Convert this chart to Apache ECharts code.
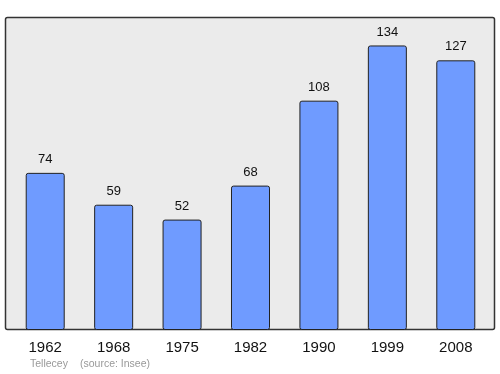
<!DOCTYPE html>
<html>
<head>
<meta charset="utf-8">
<script src="https://cdn.jsdelivr.net/npm/echarts@6/dist/echarts.min.js"></script>
<style>html,body{margin:0;padding:0;background:#fff}#c{width:500px;height:374px}</style>
</head>
<body>
<div id="c"></div>
<script>
var categories = ['1962','1968','1975','1982','1990','1999','2008'];
var values = [74,59,52,68,108,134,127];
var chart = echarts.init(document.getElementById('c'));
chart.setOption({
  animation:false,
  graphic:[
    {type:'rect',z:-10,shape:{x:5.5,y:17.5,width:489,height:312,r:2},style:{fill:'#ebebeb',stroke:'#333',lineWidth:1.5}},
    {type:'text',left:30,top:359,style:{text:'Tellecey',fill:'#999',font:'10.5px "Liberation Sans", Arial, sans-serif'}},
    {type:'text',left:80,top:359,style:{text:'(source: Insee)',fill:'#999',font:'10.5px "Liberation Sans", Arial, sans-serif'}}
  ],
  grid:{left:11,right:10,top:17,bottom:44},
  xAxis:{type:'category',data:categories,axisLine:{show:false},axisTick:{show:false},
    axisLabel:{color:'#111',fontSize:15,margin:10,fontFamily:'Liberation Sans'}},
  yAxis:{type:'value',min:0,max:147.4,show:false,splitLine:{show:false}},
  series:[{type:'bar',data:values,barWidth:'57%',
    itemStyle:{color:'#6f9bff',borderColor:'#222',borderWidth:1,borderRadius:2},
    label:{show:true,position:'top',distance:7,color:'#111',fontSize:13,fontFamily:'Liberation Sans'}}]
});
</script>
</body>
</html>
